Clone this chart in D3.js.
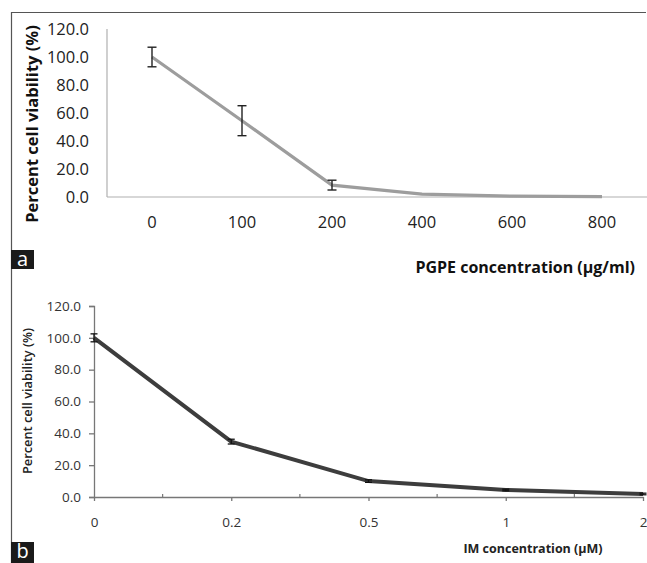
<!DOCTYPE html>
<html lang="en">

<head>
    <meta charset="UTF-8">
    <title>Percent cell viability</title>
    <style>
        body { margin: 0; background: #fff; }
        svg { display: block; font-family: "Open Sans", sans-serif; }
    </style>
</head>

<body>
    <svg id="chart"></svg>
    <script src="https://cdn.jsdelivr.net/npm/d3@7/dist/d3.min.js"></script>
    <script type="text/javascript">
        // panel a: PGPE
        const pgpeConc = ["0", "100", "200", "400", "600", "800"];
        const pgpeViability = [100, 54.5, 8.5, 2, 0.6, 0.2];
        const pgpeError = [7, 10.7, 3.5, 0, 0, 0];
        // panel b: IM
        const imConc = ["0", "0.2", "0.5", "1", "2"];
        const imViability = [100, 34.8, 10, 4.4, 1.9];
        const imError = [2.5, 1.5, 0.8, 0.5, 0.5];
        const yTicks = [0, 20, 40, 60, 80, 100, 120];

        window.onload = function () {
            drawChart();
        }

        function drawChart() {
            const svg = d3.select("#chart").attr("width", 647).attr("height", 563);

            // frame
            svg.append("path")
                .attr("d", "M11.5,563V12.5H646")
                .attr("fill", "none")
                .attr("stroke", "#555")
                .attr("stroke-width", 1.2);

            drawPanelA(svg);
            drawPanelB(svg);

            // panel letters
            [["a", 250, 19], ["b", 542, 21]].forEach(function (p) {
                svg.append("rect").attr("x", 11).attr("y", p[1]).attr("width", 23).attr("height", p[2]).attr("fill", "#1a1a1a");
                svg.append("text")
                    .attr("x", 22.5).attr("y", p[1] + 16)
                    .attr("text-anchor", "middle")
                    .attr("fill", "#fff")
                    .attr("font-size", "20px")
                    .text(p[0]);
            });
        }

        function drawPanelA(svg) {
            let x = d3.scaleBand().domain(pgpeConc).range([107, 647]); // 设置x轴
            let y = d3.scaleLinear().domain([0, 120]).range([197, 29]); // 设置y轴
            const data = pgpeConc.map(function (c, i) {
                return { c: c, v: pgpeViability[i], e: pgpeError[i] };
            });
            const cx = function (d) { return x(d.c) + x.bandwidth() / 2; };

            let g = svg.append("g").attr("class", "panel-a");

            g.append("line") // y axis
                .attr("x1", 107).attr("x2", 107).attr("y1", y(120)).attr("y2", y(0))
                .attr("stroke", "#b0b0b0").attr("stroke-width", 1.2);
            g.append("line") // x axis
                .attr("x1", 107).attr("x2", 647).attr("y1", y(0)).attr("y2", y(0))
                .attr("stroke", "#b0b0b0").attr("stroke-width", 1.2);

            g.append("g").selectAll("text")
                .data(yTicks).enter().append("text")
                .attr("x", 89).attr("y", function (d) { return y(d); })
                .attr("dy", "0.35em")
                .attr("text-anchor", "end")
                .attr("font-size", "16.5px").attr("fill", "#222")
                .text(function (d) { return d3.format(".1f")(d); });

            g.append("g").selectAll("text")
                .data(pgpeConc).enter().append("text")
                .attr("x", function (d) { return x(d) + x.bandwidth() / 2; })
                .attr("y", 228)
                .attr("text-anchor", "middle")
                .attr("font-size", "16.5px").attr("fill", "#222")
                .text(function (d) { return d; });

            g.append("path") // line
                .datum(data)
                .attr("fill", "none")
                .attr("stroke", "#9d9d9d")
                .attr("stroke-width", 3.2)
                .attr("d", d3.line().x(cx).y(function (d) { return y(d.v); }));

            // error bars
            let eb = g.append("g").selectAll("g").data(data.filter(function (d) { return d.e > 0; }))
                .enter().append("g")
                .attr("stroke", "#222").attr("stroke-width", 1.4);
            eb.append("line")
                .attr("x1", cx).attr("x2", cx)
                .attr("y1", function (d) { return y(d.v + d.e); })
                .attr("y2", function (d) { return y(d.v - d.e); });
            eb.append("line")
                .attr("x1", function (d) { return cx(d) - 4.5; }).attr("x2", function (d) { return cx(d) + 4.5; })
                .attr("y1", function (d) { return y(d.v + d.e); }).attr("y2", function (d) { return y(d.v + d.e); });
            eb.append("line")
                .attr("x1", function (d) { return cx(d) - 4.5; }).attr("x2", function (d) { return cx(d) + 4.5; })
                .attr("y1", function (d) { return y(d.v - d.e); }).attr("y2", function (d) { return y(d.v - d.e); });

            g.append("text") // y title
                .attr("transform", "translate(38,124) rotate(-90)")
                .attr("text-anchor", "middle")
                .attr("font-size", "16.5px").attr("font-weight", 700).attr("fill", "#111")
                .text("Percent cell viability (%)");

            g.append("text") // x title
                .attr("x", 635).attr("y", 273)
                .attr("text-anchor", "end")
                .attr("font-size", "16px").attr("font-weight", 700).attr("fill", "#111")
                .text("PGPE concentration (µg/ml)");
        }

        function drawPanelB(svg) {
            let x = d3.scalePoint().domain(imConc).range([94, 643]);
            let y = d3.scaleLinear().domain([0, 120]).range([497, 306]);
            const data = imConc.map(function (c, i) {
                return { c: c, v: imViability[i], e: imError[i] };
            });
            const cx = function (d) { return x(d.c); };

            let g = svg.append("g").attr("class", "panel-b");

            g.append("g") // y axis
                .attr("transform", "translate(94,0)")
                .call(d3.axisLeft(y).tickValues(yTicks).tickSize(5).tickPadding(8).tickFormat(d3.format(".1f")))
                .call(function (a) {
                    a.selectAll("path,line").attr("stroke", "#777").attr("stroke-width", 1.3);
                    a.selectAll("text").attr("font-size", "13.5px").attr("fill", "#333").attr("font-family", "Open Sans, sans-serif");
                });

            g.append("g") // x axis
                .attr("transform", "translate(0,497)")
                .call(d3.axisBottom(x).tickSize(4).tickSizeOuter(0).tickPadding(16))
                .call(function (a) {
                    a.selectAll("path,line").attr("stroke", "#777").attr("stroke-width", 1.3);
                    a.selectAll("text").attr("font-size", "13.5px").attr("fill", "#333").attr("font-family", "Open Sans, sans-serif");
                });

            // minor ticks between categories
            g.append("g").selectAll("line")
                .data(imConc.slice(1)).enter().append("line")
                .attr("x1", function (d) { return x(d) - x.step() / 2; })
                .attr("x2", function (d) { return x(d) - x.step() / 2; })
                .attr("y1", 497).attr("y2", 494)
                .attr("stroke", "#777").attr("stroke-width", 1.2);

            g.append("path") // line
                .datum(data)
                .attr("fill", "none")
                .attr("stroke", "#3d3d3d")
                .attr("stroke-width", 4)
                .attr("d", d3.line().x(cx).y(function (d) { return y(d.v); }));

            // error bars
            let eb = g.append("g").selectAll("g").data(data)
                .enter().append("g")
                .attr("stroke", "#111").attr("stroke-width", 1.3);
            eb.append("line")
                .attr("x1", cx).attr("x2", cx)
                .attr("y1", function (d) { return y(d.v + d.e); })
                .attr("y2", function (d) { return y(d.v - d.e); });
            eb.append("line")
                .attr("x1", function (d) { return cx(d) - 3.5; }).attr("x2", function (d) { return cx(d) + 3.5; })
                .attr("y1", function (d) { return y(d.v + d.e); }).attr("y2", function (d) { return y(d.v + d.e); });
            eb.append("line")
                .attr("x1", function (d) { return cx(d) - 3.5; }).attr("x2", function (d) { return cx(d) + 3.5; })
                .attr("y1", function (d) { return y(d.v - d.e); }).attr("y2", function (d) { return y(d.v - d.e); });

            g.append("text") // y title
                .attr("transform", "translate(32,401) rotate(-90)")
                .attr("text-anchor", "middle")
                .attr("font-size", "12.8px").attr("font-weight", 600).attr("fill", "#222")
                .text("Percent cell viability (%)");

            g.append("text") // x title
                .attr("x", 533).attr("y", 553)
                .attr("text-anchor", "middle")
                .attr("font-size", "12.5px").attr("font-weight", 700).attr("fill", "#222")
                .text("IM concentration (µM)");
        }
    </script>
</body>

</html>
